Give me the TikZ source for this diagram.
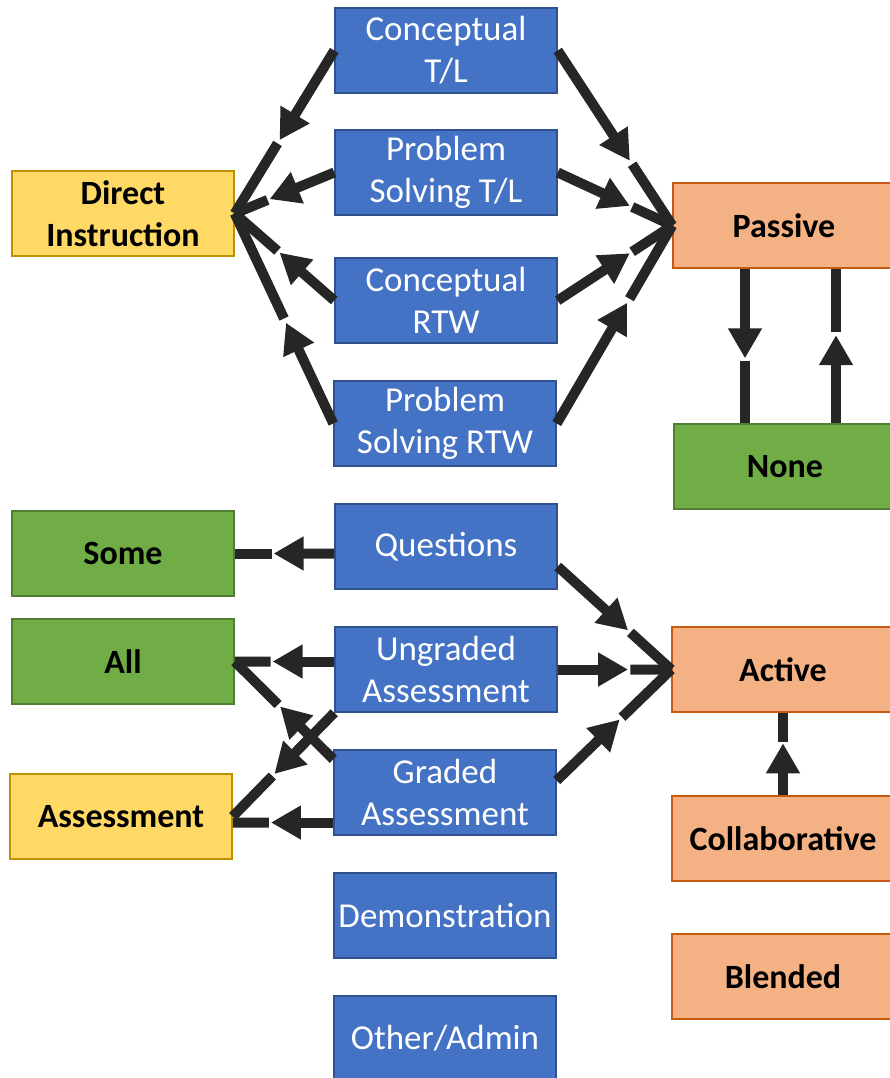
\documentclass[tikz,border=0pt]{standalone}
\usepackage{fontspec}
\setmainfont{Carlito}
\usepackage{xcolor}
\usepackage{tikz}
\usetikzlibrary{arrows.meta,calc}

\definecolor{boxblue}{HTML}{4472C4}
\definecolor{lineblue}{HTML}{2F528F}
\definecolor{boxyellow}{HTML}{FFD966}
\definecolor{lineyellow}{HTML}{BF9000}
\definecolor{boxorange}{HTML}{F4B183}
\definecolor{lineorange}{HTML}{C55A11}
\definecolor{boxgreen}{HTML}{70AD47}
\definecolor{linegreen}{HTML}{507E32}
\definecolor{arrowgray}{HTML}{262626}

\begin{document}
\begin{tikzpicture}[x=1pt,y=-1pt,
    box/.style={rectangle,minimum width=222pt,minimum height=85pt,inner sep=0pt,align=center,line width=1.5pt},
    bluebox/.style={box,fill=boxblue,draw=lineblue,text=white,font=\fontsize{35}{42}\selectfont},
    catbox/.style={box,text=black,font=\fontsize{34}{42}\selectfont\bfseries},
    ylwbox/.style={catbox,fill=boxyellow,draw=lineyellow},
    orgbox/.style={catbox,fill=boxorange,draw=lineorange},
    grnbox/.style={catbox,fill=boxgreen,draw=linegreen},
    conn/.style={line width=10pt,draw=arrowgray},
    tip/.style={-{Triangle[length=30pt,width=32pt]}}]
    \useasboundingbox (0,0) rectangle (889,1078);

    % middle column
    \node[bluebox] (ctl) at (446,50.5) {Conceptual\\T/L};
    \node[bluebox] (pstl) at (446,172.5) {Problem\\Solving T/L};
    \node[bluebox] (crtw) at (446,300.5) {Conceptual\\RTW};
    \node[bluebox] (psrtw) at (445,423.5) {Problem\\Solving RTW};
    \node[bluebox] (q) at (446,546.5) {Questions};
    \node[bluebox] (ug) at (446,669.5) {Ungraded\\Assessment};
    \node[bluebox] (gr) at (445,792.5) {Graded\\Assessment};
    \node[bluebox] (demo) at (445,915.5) {Demonstration};
    \node[bluebox] (oth) at (445,1038.5) {Other/Admin};

    % left column
    \node[ylwbox] (di) at (123,213.5) {Direct\\Instruction};
    \node[grnbox] (some) at (123,553.5) {Some};
    \node[grnbox] (all) at (123,661.5) {All};
    \node[ylwbox] (as) at (121,816.5) {Assessment};

    % right column
    \node[orgbox] (passive) at (784,225.5) {Passive};
    \node[grnbox] (none) at (785,466.5) {None};
    \node[orgbox] (active) at (783,669.5) {Active};
    \node[orgbox] (collab) at (783,838.5) {Collaborative};
    \node[orgbox] (blend) at (783,976.5) {Blended};

    % odd end points
    \coordinate (pn1) at ([xshift=-39pt]passive.south);
    \coordinate (pn2) at (none.north -| pn1);
    \coordinate (np1) at ([xshift=51pt]none.north);
    \coordinate (np2) at (passive.south -| np1);
    \coordinate (qa) at ([yshift=-20pt]q.east);
    \coordinate (qs) at (q.west |- some);
    \coordinate (ua) at (ug.west |- all);
    \coordinate (ga) at ([yshift=-10pt]gr.north west);
    \coordinate (gp) at ([yshift=12pt]gr.east);
    \coordinate (gs) at ([yshift=-6pt]gr.west |- as);
    \coordinate (se) at ([yshift=-6pt]as.east);

    % arrows with a break after the head
    \foreach \src/\dst/\f in {ctl.west/di.east/0.55, pstl.west/di.east/0.65,
        crtw.west/di.east/0.55, psrtw.west/di.east/0.48,
        ctl.east/passive.west/0.63, pstl.east/passive.west/0.63,
        crtw.east/passive.west/0.63, psrtw.east/passive.west/0.61,
        pn1/pn2/0.58, np1/np2/0.57,
        qs/some.east/0.61, qa/active.west/0.62, ua/all.east/0.62,
        ug.east/active.west/0.62, gp/active.west/0.55, ga/all.east/0.54,
        ug.south west/as.east/0.59, gs/se/0.62, collab.north/active.south/0.63} {
        \pgfmathsetmacro{\g}{\f+0.02}
        \draw[conn,tip] (\src) -- ($(\src)!\f!(\dst)$);
        \draw[conn] ($(\src)!\g!(\dst)$) -- (\dst);
    }
\end{tikzpicture}
\end{document}
